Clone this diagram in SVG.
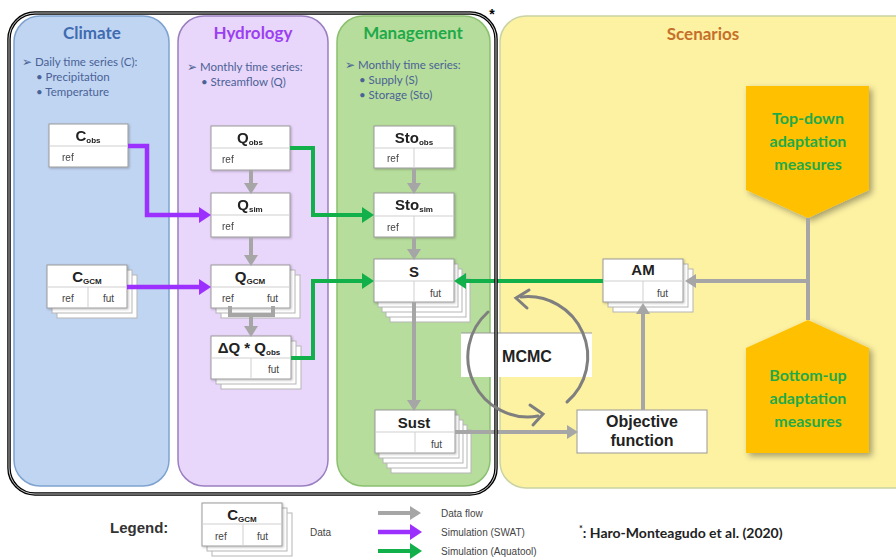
<svg xmlns="http://www.w3.org/2000/svg" width="896" height="559" viewBox="0 0 896 559">
<defs>
<style>
.title{font-family:Lato,"Open Sans",sans-serif;font-weight:bold;font-size:17px;text-anchor:middle}
.bul{font-family:Lato,"Open Sans",sans-serif;font-size:11.5px;fill:#4a6296}
.box{fill:#fff;stroke:#9a9a9a;stroke-width:1}
.sh{fill:#fff;stroke:#b5b5b5;stroke-width:1}
.div{stroke:#cfcfcf;stroke-width:1;fill:none}
.hd{font-family:"Liberation Sans",Arial,sans-serif;font-weight:bold;font-size:15px;fill:#222;text-anchor:middle}
.sub{font-size:8px}
.cell{font-family:"Liberation Sans",Arial,sans-serif;font-size:10px;fill:#444}
.ag{stroke:#a6a6a6;stroke-width:4;fill:none}
.ap{stroke:#9b30ff;stroke-width:4.5;fill:none}
.an{stroke:#12b04b;stroke-width:4;fill:none}
.am{font-family:Lato,"Open Sans",sans-serif;font-weight:bold;font-size:16px;fill:#1faa4a;text-anchor:middle}
.big{font-family:"Liberation Sans",Arial,sans-serif;font-weight:bold;font-size:16px;fill:#222;text-anchor:middle}
.leg{font-family:"Liberation Sans",Arial,sans-serif;font-size:10px;fill:#444}
</style>
<marker id="mg" markerUnits="userSpaceOnUse" markerWidth="12" markerHeight="14" refX="0" refY="7" orient="auto"><path d="M0,0 L11,7 L0,14 z" fill="#a6a6a6"/></marker>
<marker id="mp" markerUnits="userSpaceOnUse" markerWidth="13" markerHeight="16" refX="0" refY="8" orient="auto"><path d="M0,0 L12,8 L0,16 z" fill="#9b30ff"/></marker>
<marker id="mn" markerUnits="userSpaceOnUse" markerWidth="13" markerHeight="16" refX="0" refY="8" orient="auto"><path d="M0,0 L12,8 L0,16 z" fill="#12b04b"/></marker>
<filter id="ds" x="-20%" y="-20%" width="150%" height="150%"><feDropShadow dx="3" dy="3" stdDeviation="3" flood-color="#000" flood-opacity="0.35"/></filter>
<filter id="bs" x="-10%" y="-10%" width="130%" height="130%"><feDropShadow dx="1" dy="1" stdDeviation="1" flood-color="#000" flood-opacity="0.25"/></filter>
</defs>
<rect width="896" height="559" fill="#fff"/>

<g id="panel-climate">
<rect x="14" y="16" width="155" height="470" rx="26" fill="#c0d5f2" stroke="#7ea3d0" stroke-width="1.5"/>
<text class="title" x="92" y="39" fill="#3f6bb0">Climate</text>
<text class="bul" x="22" y="66">➢ Daily time series (C):</text>
<text class="bul" x="36" y="81">•  Precipitation</text>
<text class="bul" x="36" y="96">•  Temperature</text>
</g>
<g id="panel-hydrology">
<rect x="178" y="16" width="150" height="470" rx="26" fill="#e9d6fb" stroke="#9a7fc0" stroke-width="1.5"/>
<text class="title" x="253" y="39" fill="#9b3ff0">Hydrology</text>
<text class="bul" x="187" y="71">➢ Monthly time series:</text>
<text class="bul" x="201" y="86">•  Streamflow (Q)</text>
</g>
<g id="panel-management">
<rect x="337" y="16" width="153" height="470" rx="26" fill="#b6dd9b" stroke="#8bbf70" stroke-width="1.5"/>
<text class="title" x="413" y="39" fill="#1faa4a">Management</text>
<text class="bul" x="345" y="69">➢ Monthly time series:</text>
<text class="bul" x="359" y="84">•  Supply (S)</text>
<text class="bul" x="359" y="99">•  Storage (Sto)</text>
</g>
<g id="panel-scenarios">
<rect x="500" y="16" width="420" height="472" rx="26" fill="#fdf1a2" stroke="#c9d3a3" stroke-width="1.5"/>
<text class="title" x="703" y="40" fill="#c5702a" font-size="16">Scenarios</text>
</g>

<g id="mcmc">
<rect x="461" y="333" width="131" height="44" fill="#fff"/>
<line x1="461" y1="333" x2="592" y2="333" stroke="#999" stroke-width="1"/>
<text class="big" x="527" y="362" font-size="17">MCMC</text>
</g>

<g id="top-down">
<polygon points="746,86 869,86 869,190 808,218 746,190" fill="#ffc000" filter="url(#ds)"/>
<text class="am" x="808" y="124">Top-down</text>
<text class="am" x="808" y="147">adaptation</text>
<text class="am" x="808" y="170">measures</text>
</g>
<g id="bottom-up">
<polygon points="808,320 869,348 869,453 746,453 746,348" fill="#ffc000" filter="url(#ds)"/>
<text class="am" x="808" y="381">Bottom-up</text>
<text class="am" x="808" y="404">adaptation</text>
<text class="am" x="808" y="427">measures</text>
</g>

<g id="objective">
<rect x="577" y="410" width="130" height="43" fill="#fff" stroke="#999" stroke-width="1"/>
<text class="big" x="642" y="427">Objective</text>
<text class="big" x="642" y="446">function</text>
</g>

<g id="c-obs" filter="url(#bs)">
<rect class="box" x="49" y="124" width="79" height="43"/>
<line class="div" x1="49" y1="146" x2="128" y2="146"/>
<text class="hd" x="88" y="141">C<tspan class="sub" dy="2">obs</tspan></text>
<text class="cell" x="62" y="161">ref</text>
</g>
<g id="c-gcm">
<rect class="sh" x="57" y="275" width="80" height="43"/>
<rect class="sh" x="52" y="270" width="80" height="43"/>
<rect class="box" x="47" y="265" width="80" height="43" filter="url(#bs)"/>
<line class="div" x1="47" y1="287" x2="127" y2="287"/>
<line class="div" x1="88" y1="287" x2="88" y2="308"/>
<text class="hd" x="87" y="282">C<tspan class="sub" dy="2">GCM</tspan></text>
<text class="cell" x="62" y="302">ref</text>
<text class="cell" x="103" y="302">fut</text>
</g>

<g id="q-obs" filter="url(#bs)">
<rect class="box" x="211" y="126" width="79" height="44"/>
<line class="div" x1="211" y1="148" x2="290" y2="148"/>
<text class="hd" x="250" y="143">Q<tspan class="sub" dy="2">obs</tspan></text>
<text class="cell" x="222" y="163">ref</text>
</g>
<g id="q-sim" filter="url(#bs)">
<rect class="box" x="211" y="193" width="79" height="44"/>
<line class="div" x1="211" y1="215" x2="290" y2="215"/>
<text class="hd" x="250" y="210">Q<tspan class="sub" dy="2">sim</tspan></text>
<text class="cell" x="222" y="230">ref</text>
</g>
<g id="q-gcm">
<rect class="sh" x="221" y="275" width="79" height="43"/>
<rect class="sh" x="216" y="270" width="79" height="43"/>
<rect class="box" x="211" y="265" width="79" height="43" filter="url(#bs)"/>
<line class="div" x1="211" y1="287" x2="290" y2="287"/>
<text class="hd" x="250" y="282">Q<tspan class="sub" dy="2">GCM</tspan></text>
<text class="cell" x="222" y="302">ref</text>
<text class="cell" x="267" y="302">fut</text>
</g>
<g id="dq-qobs">
<rect class="sh" x="221" y="346" width="80" height="43"/>
<rect class="sh" x="216" y="341" width="80" height="43"/>
<rect class="box" x="211" y="336" width="80" height="43" filter="url(#bs)"/>
<line class="div" x1="211" y1="358" x2="291" y2="358"/>
<line class="div" x1="251" y1="358" x2="251" y2="379"/>
<text class="hd" x="249" y="353">ΔQ * Q<tspan class="sub" dy="2">obs</tspan></text>
<text class="cell" x="268" y="373">fut</text>
</g>

<g id="sto-obs" filter="url(#bs)">
<rect class="box" x="374" y="126" width="80" height="42"/>
<line class="div" x1="374" y1="148" x2="454" y2="148"/>
<line class="div" x1="414" y1="148" x2="414" y2="168"/>
<text class="hd" x="414" y="143">Sto<tspan class="sub" dy="2">obs</tspan></text>
<text class="cell" x="387" y="162">ref</text>
</g>
<g id="sto-sim" filter="url(#bs)">
<rect class="box" x="374" y="193" width="80" height="44"/>
<line class="div" x1="374" y1="216" x2="454" y2="216"/>
<line class="div" x1="414" y1="216" x2="414" y2="237"/>
<text class="hd" x="414" y="210">Sto<tspan class="sub" dy="2">sim</tspan></text>
<text class="cell" x="387" y="231">ref</text>
</g>
<g id="s">
<rect class="sh" x="390" y="279" width="80" height="43"/>
<rect class="sh" x="386" y="274" width="80" height="43"/>
<rect class="sh" x="382" y="269" width="80" height="43"/>
<rect class="sh" x="378" y="264" width="80" height="43"/>
<rect class="box" x="374" y="259" width="80" height="43" filter="url(#bs)"/>
<line class="div" x1="374" y1="281" x2="454" y2="281"/>
<line class="div" x1="414" y1="281" x2="414" y2="302"/>
<text class="hd" x="414" y="277" font-size="16">S</text>
<text class="cell" x="430" y="297">fut</text>
</g>
<g id="sust">
<rect class="sh" x="391" y="430" width="80" height="43"/>
<rect class="sh" x="387" y="425" width="80" height="43"/>
<rect class="sh" x="383" y="420" width="80" height="43"/>
<rect class="sh" x="379" y="415" width="80" height="43"/>
<rect class="box" x="375" y="410" width="80" height="43" filter="url(#bs)"/>
<line class="div" x1="375" y1="432" x2="455" y2="432"/>
<line class="div" x1="415" y1="432" x2="415" y2="453"/>
<text class="hd" x="414" y="428" font-size="16">Sust</text>
<text class="cell" x="431" y="448">fut</text>
</g>
<g id="am">
<rect class="sh" x="613" y="269" width="80" height="43"/>
<rect class="sh" x="608" y="264" width="80" height="43"/>
<rect class="box" x="603" y="259" width="80" height="43" filter="url(#bs)"/>
<line class="div" x1="603" y1="281" x2="683" y2="281"/>
<line class="div" x1="643" y1="281" x2="643" y2="302"/>
<text class="hd" x="643" y="275" font-size="14">AM</text>
<text class="cell" x="657" y="297">fut</text>
</g>

<g id="connectors">
<path class="ap" d="M128,146 H147 V215 H199" marker-end="url(#mp)"/>
<path class="ap" d="M127,287 H199" marker-end="url(#mp)"/>
<path class="an" d="M290,148 H313 V215 H362" marker-end="url(#mn)"/>
<path class="an" d="M291,358 H313 V281 H362" marker-end="url(#mn)"/>
<path class="an" d="M603,281 H466" marker-end="url(#mn)"/>
<path class="ag" d="M251,170 V183" marker-end="url(#mg)"/>
<path class="ag" d="M251,237 V255" marker-end="url(#mg)"/>
<path class="ag" d="M230,306 V315 H273 V306"/>
<path class="ag" d="M251,315 V326" marker-end="url(#mg)"/>
<path class="ag" d="M414,168 V183" marker-end="url(#mg)"/>
<path class="ag" d="M414,237 V249" marker-end="url(#mg)"/>
<path class="ag" d="M414,302 V400" marker-end="url(#mg)"/>
<path class="ag" d="M455,432 H567" marker-end="url(#mg)"/>
<path class="ag" d="M643,410 V314" marker-end="url(#mg)"/>
<path class="ag" d="M808,218 V320"/>
<path class="ag" d="M808,281 H696" marker-end="url(#mg)"/>
</g>

<g id="frame">
<rect x="9" y="13" width="487" height="481" rx="26" fill="none" stroke="#000" stroke-width="3.5"/>
<rect x="9" y="13" width="487" height="481" rx="26" fill="none" stroke="#fff" stroke-width="0.8"/>
<text x="492" y="19" font-family="Liberation Sans,Arial,sans-serif" font-size="14" font-weight="bold" text-anchor="middle">*</text>
</g>

<g id="mcmc-cycle" stroke="#7f7f7f" stroke-width="3" fill="none" stroke-linecap="round">
<path d="M567,402 A60,60 0 0 0 521,297"/>
<polyline points="529,290 516,298 527,308"/>
<path d="M488,312 A60,60 0 0 0 538,416"/>
<polyline points="530,405 543,414 533,425"/>
</g>

<g id="legend">
<text x="110" y="533" font-family="Liberation Sans,Arial,sans-serif" font-weight="bold" font-size="15" fill="#333">Legend:</text>
<rect class="sh" x="212" y="513" width="80" height="43"/>
<rect class="sh" x="207" y="508" width="80" height="43"/>
<rect class="box" x="202" y="503" width="80" height="43" filter="url(#bs)"/>
<line class="div" x1="202" y1="524" x2="282" y2="524"/>
<line class="div" x1="243" y1="524" x2="243" y2="546"/>
<text class="hd" x="242" y="520">C<tspan class="sub" dy="2">GCM</tspan></text>
<text class="cell" x="215" y="540">ref</text>
<text class="cell" x="257" y="540">fut</text>
<text class="cell" x="310" y="536">Data</text>
<path class="ag" d="M378,513 H410" marker-end="url(#mg)"/>
<path class="ap" d="M378,532 H410" marker-end="url(#mp)"/>
<path class="an" d="M378,551 H410" marker-end="url(#mn)"/>
<text class="leg" x="441" y="517">Data flow</text>
<text class="leg" x="441" y="536">Simulation (SWAT)</text>
<text class="leg" x="441" y="555">Simulation (Aquatool)</text>
<text x="579" y="538" font-family="Lato,'Open Sans',sans-serif" font-weight="bold" font-size="14" fill="#222"><tspan font-size="9" dy="-6">*</tspan><tspan dy="6">: Haro-Monteagudo et al. (2020)</tspan></text>
</g>
</svg>
